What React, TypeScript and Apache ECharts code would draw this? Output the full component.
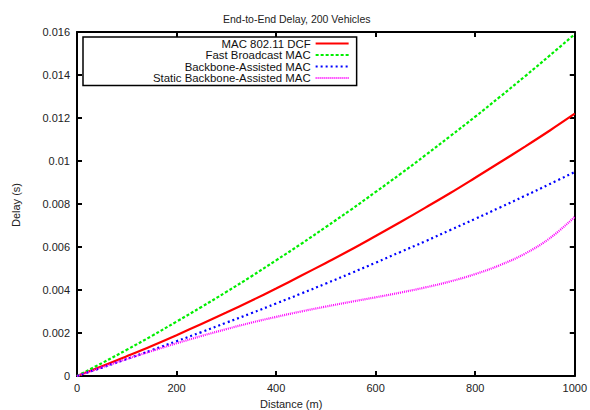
import React, { useEffect, useRef } from "react";
import * as echarts from "echarts";

const distances = [0, 50, 100, 150, 200, 250, 300, 350, 400, 450, 500, 550, 600, 650, 700, 750, 800, 850, 900, 950, 1000];
const dcfDelay = [0, 0.00045, 0.00092, 0.0014, 0.0019, 0.00242, 0.00295, 0.0035, 0.00407, 0.00466, 0.00526, 0.00587, 0.00651, 0.00716, 0.00783, 0.00851, 0.00922, 0.00994, 0.01067, 0.01142, 0.0122];
const fastDelay = [0, 0.0006, 0.00122, 0.00186, 0.00253, 0.00321, 0.00391, 0.00463, 0.00538, 0.00614, 0.00693, 0.00773, 0.00856, 0.0094, 0.01027, 0.01116, 0.01206, 0.01299, 0.01394, 0.01491, 0.0159];
const backboneDelay = [0, 0.00039, 0.00079, 0.0012, 0.00162, 0.00204, 0.00248, 0.00292, 0.00337, 0.00383, 0.0043, 0.00478, 0.00527, 0.00577, 0.00627, 0.00679, 0.00731, 0.00784, 0.00838, 0.00893, 0.00949];
const staticDelay = [0, 0.0004, 0.00079, 0.00116, 0.00152, 0.00186, 0.00218, 0.00248, 0.00275, 0.003, 0.00323, 0.00345, 0.00366, 0.00388, 0.00412, 0.0044, 0.00474, 0.00516, 0.00569, 0.00641, 0.0074];
const seriesNames = ["MAC 802.11 DCF", "Fast Broadcast MAC", "Backbone-Assisted MAC", "Static Backbone-Assisted MAC"];

const FONT = "'Liberation Sans', Arial, Helvetica, sans-serif";

export default function App() {
  const ref = useRef<HTMLDivElement>(null);
  useEffect(() => {
    if (!ref.current) return;
    const chart = echarts.init(ref.current, undefined, { renderer: "svg" });
    const pairs = (vals: number[]) => distances.map((d, i) => [d, vals[i]]);
    const mk = (name: string, vals: number[], color: string, type: any, width: number) => ({
      name,
      type: "line",
      data: pairs(vals),
      smooth: 0.4,
      showSymbol: false,
      symbol: "none",
      lineStyle: { color, width, type },
      itemStyle: { color },
      xAxisIndex: 0,
      yAxisIndex: 0,
    });
    const tickStyle = { show: true, inside: true, length: 5, lineStyle: { color: "#000", width: 2 } };
    const axisLine = { show: true, onZero: false, lineStyle: { color: "#000", width: 2 } };
    const labelStyle = { fontFamily: FONT, fontSize: 11, color: "#222" };
    chart.setOption({
      animation: false,
      backgroundColor: "#fff",
      textStyle: { fontFamily: FONT },
      title: {
        text: "End-to-End Delay, 200 Vehicles",
        left: 218,
        top: 8,
        textStyle: { fontFamily: FONT, fontSize: 10.5, fontWeight: "normal", color: "#222" },
      },
      grid: { left: 77, right: 14, top: 32, bottom: 34, containLabel: false },
      legend: {
        orient: "vertical",
        align: "right",
        left: 83,
        top: 37,
        itemWidth: 33,
        itemHeight: 10,
        itemGap: 0.5,
        padding: [1, 7, 2, 70],
        backgroundColor: "#fff",
        borderColor: "#000",
        borderWidth: 1.5,
        borderRadius: 0,
        itemStyle: { color: "rgba(0,0,0,0)", borderWidth: 0, opacity: 0 },
        textStyle: { fontFamily: FONT, fontSize: 11.4, color: "#111", lineHeight: 10 },
        data: seriesNames,
      },
      xAxis: [
        {
          type: "value",
          min: 0,
          max: 1000,
          interval: 200,
          position: "bottom",
          axisLine,
          axisTick: tickStyle,
          axisLabel: { ...labelStyle, margin: 6, formatter: (v: number) => String(v) },
          splitLine: { show: false },
        },
        {
          type: "value",
          min: 0,
          max: 1000,
          interval: 200,
          position: "top",
          axisLine,
          axisTick: tickStyle,
          axisLabel: { show: false },
          splitLine: { show: false },
        },
      ],
      yAxis: [
        {
          type: "value",
          min: 0,
          max: 0.016,
          interval: 0.002,
          position: "left",
          axisLine,
          axisTick: tickStyle,
          axisLabel: { ...labelStyle, margin: 7 },
          splitLine: { show: false },
        },
        {
          type: "value",
          min: 0,
          max: 0.016,
          interval: 0.002,
          position: "right",
          axisLine,
          axisTick: tickStyle,
          axisLabel: { show: false },
          splitLine: { show: false },
        },
      ],
      graphic: [
        {
          type: "text",
          left: 260,
          top: 398,
          style: { text: "Distance (m)", fontFamily: FONT, fontSize: 11, fill: "#222" },
        },
        {
          type: "text",
          x: 10,
          y: 205,
          rotation: Math.PI / 2,
          style: {
            text: "Delay (s)",
            fontFamily: FONT,
            fontSize: 11,
            fill: "#222",
            align: "center",
            verticalAlign: "top",
          },
        },
      ],
      series: [
        mk(seriesNames[0], dcfDelay, "#ff0000", "solid", 2.2),
        mk(seriesNames[1], fastDelay, "#00ee00", [3, 2], 2.2),
        mk(seriesNames[2], backboneDelay, "#0000ff", [2, 3], 2.2),
        mk(seriesNames[3], staticDelay, "#ff00ff", [1, 1], 2.2),
      ],
    });
    return () => chart.dispose();
  }, []);
  return <div ref={ref} style={{ position: "fixed", left: 0, top: 0, width: 590, height: 410 }} />;
}
